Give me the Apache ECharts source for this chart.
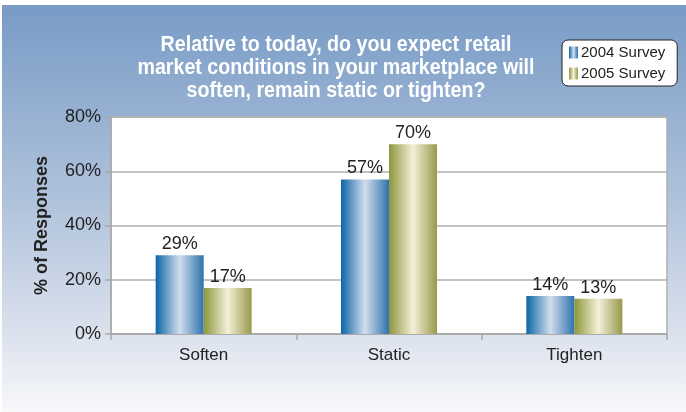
<!DOCTYPE html>
<html><head><meta charset="utf-8">
<script src="https://cdn.jsdelivr.net/npm/echarts@6/dist/echarts.min.js"></script>
<style>html,body{margin:0;padding:0;background:#fff}#c{width:686px;height:412px}</style>
</head><body><div id="c"></div>
<script>
const categories = ['Soften', 'Static', 'Tighten'];
const survey2004 = [29, 57, 14];
const survey2005 = [17, 70, 13];
const seriesNames = ['2004 Survey', '2005 Survey'];
const yTicks = { min: 0, max: 80, interval: 20 };
const titleLines = ['Relative to today, do you expect retail', 'market conditions in your marketplace will', 'soften, remain static or tighten?'];

const F = "'Liberation Sans', Arial, sans-serif";
const titleFont = "bold 22px 'Liberation Sans', Arial, sans-serif";
// condense title to match the narrow face of the original
const cv = document.createElement('canvas').getContext('2d');
cv.font = titleFont;
const titleScale = 397 / cv.measureText(titleLines[1]).width;

const blueGrad = {type:'linear',x:0,y:0,x2:1,y2:0,colorStops:[
  {offset:0,color:'#0a66a6'},{offset:0.5,color:'#d2ddec'},{offset:1,color:'#2f72ad'}]};
const oliveGrad = {type:'linear',x:0,y:0,x2:1,y2:0,colorStops:[
  {offset:0,color:'#8c963c'},{offset:0.5,color:'#f4f0d8'},{offset:1,color:'#98984c'}]};

const chart = echarts.init(document.getElementById('c'));
const labelStyle = {show:true,position:'top',formatter:'{c}%',fontFamily:F,fontSize:18,color:'#222',distance:2};
chart.setOption({
  backgroundColor:'#ffffff',
  animation:false,
  graphic:[
    {type:'rect',z:-10,silent:true,shape:{x:2,y:5,width:684,height:407},
      style:{fill:{type:'linear',x:0,y:0,x2:0,y2:1,colorStops:[
        {offset:0,color:'#789bc6'},{offset:0.5,color:'#b2c4dc'},{offset:0.85,color:'#e1e6f0'},{offset:1,color:'#f8f9fb'}]}}},
    {type:'text',x:336,y:33,scaleX:titleScale,originX:0,originY:0,z:10,silent:true,
      style:{text:titleLines.join('\n'),font:titleFont,fill:'#fff',align:'center',verticalAlign:'top',lineHeight:23}}
  ],
  legend:{orient:'vertical',left:562,top:40,padding:[5,12,5,7],itemGap:6,itemWidth:9,itemHeight:12,icon:'rect',
    backgroundColor:'#fff',borderColor:'#222',borderWidth:1,borderRadius:6,
    textStyle:{fontFamily:F,fontSize:15,color:'#222',padding:[0,0,0,-2]},
    data:seriesNames},
  grid:{left:111,right:19,top:117,bottom:78,show:true,backgroundColor:'#fff',borderColor:'#b0b0b0',borderWidth:1.5},
  xAxis:{type:'category',data:categories,
    axisLine:{lineStyle:{color:'#a8a8a8',width:1.5}},
    axisTick:{show:true,length:6,lineStyle:{color:'#a8a8a8',width:1.5}},
    axisLabel:{fontFamily:F,fontSize:17,color:'#222',margin:13}},
  yAxis:{type:'value',min:yTicks.min,max:yTicks.max,interval:yTicks.interval,
    name:'% of Responses',nameLocation:'middle',nameGap:60,nameRotate:90,
    nameTextStyle:{fontFamily:F,fontSize:18,fontWeight:'bold',color:'#222'},
    axisLine:{show:true,lineStyle:{color:'#a8a8a8',width:1.5}},
    axisTick:{show:true,length:6,lineStyle:{color:'#a8a8a8',width:1.5}},
    splitLine:{lineStyle:{color:'#b0b0b0',width:1.5}},
    axisLabel:{formatter:'{value}%',fontFamily:F,fontSize:18,color:'#222',margin:10}},
  series:[
    {name:seriesNames[0],type:'bar',data:survey2004,barWidth:48,barGap:'0%',itemStyle:{color:blueGrad},label:labelStyle},
    {name:seriesNames[1],type:'bar',data:survey2005,barWidth:48,barGap:'0%',itemStyle:{color:oliveGrad},label:labelStyle}
  ]
});
</script></body></html>
